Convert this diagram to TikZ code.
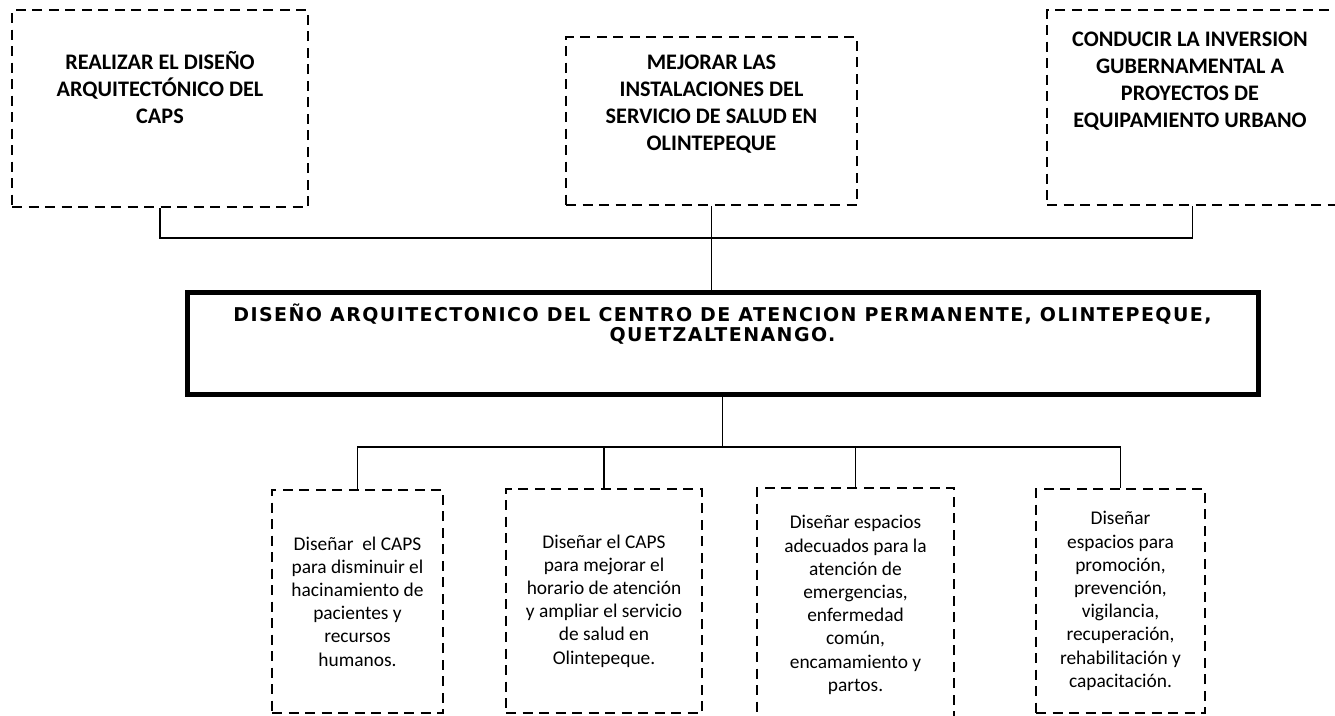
\documentclass[tikz,border=0pt]{standalone}
\usepackage{fontspec}
\setmainfont{Carlito}
\newfontfamily\titlefont[LetterSpace=7.5]{DejaVu Sans}
\usetikzlibrary{positioning}

\tikzset{
  dashbox/.style={draw, line width=2.8pt, dash pattern=on 10pt off 6.5pt, inner sep=0pt},
  headtxt/.style={font=\fontsize{22.2}{27}\selectfont\bfseries, align=center, inner sep=0pt},
  goaltxt/.style={font=\fontsize{19.4}{23.2}\selectfont, align=center},
  mainbox/.style={draw, line width=5pt, inner sep=0pt},
  maintxt/.style={font=\titlefont\bfseries\fontsize{19}{19.5}\selectfont, align=center, inner sep=0pt},
  link/.style={line width=1.8pt},
}

\begin{document}
\begin{tikzpicture}[x=1pt, y=-1pt]
\useasboundingbox (0,0) rectangle (1335,715);
% Objetivos generales
\node[dashbox, minimum width=296pt, minimum height=197pt] (obj1) at (160,108.5) {};
\node[dashbox, minimum width=291pt, minimum height=168pt] (obj2) at (711.5,121) {};
\node[dashbox, minimum width=291pt, minimum height=195pt] (obj3) at (1192.5,107.5) {};
\node[headtxt, anchor=north] (obj1txt) at (160,51) {REALIZAR EL DISEÑO\\ARQUITECTÓNICO DEL\\CAPS};
\node[headtxt, anchor=north] (obj2txt) at (711.5,55) {MEJORAR LAS\\INSTALACIONES DEL\\SERVICIO DE SALUD EN\\OLINTEPEQUE};
\node[headtxt, anchor=north] (obj3txt) at (1190,32) {CONDUCIR LA INVERSION\\GUBERNAMENTAL A\\PROYECTOS DE\\EQUIPAMIENTO URBANO};
% Proyecto
\node[mainbox, minimum width=1071pt, minimum height=102pt] (central) at (722.5,343) {};
\node[maintxt, anchor=north] (centraltxt) at (722.5,304) {DISEÑO ARQUITECTONICO DEL CENTRO DE ATENCION PERMANENTE, OLINTEPEQUE,\\QUETZALTENANGO.};
% Objetivos especificos
\node[dashbox, minimum width=171pt, minimum height=223pt, goaltxt] (objA) at (357.5,601.5)
  {Diseñar~ el CAPS\\para disminuir el\\hacinamiento de\\pacientes y\\recursos\\humanos.};
\node[dashbox, minimum width=196pt, minimum height=224pt, goaltxt] (objB) at (604,601)
  {Diseñar el CAPS\\para mejorar el\\horario de atención\\y ampliar el servicio\\de salud en\\Olintepeque.};
\node[dashbox, minimum width=197pt, minimum height=234pt, goaltxt] (objC) at (855.5,605)
  {Diseñar espacios\\adecuados para la\\atención de\\emergencias,\\enfermedad\\común,\\encamamiento y\\partos.};
\node[dashbox, minimum width=169pt, minimum height=224pt, goaltxt] (objD) at (1120.5,601)
  {Diseñar\\espacios para\\promoción,\\prevención,\\vigilancia,\\recuperación,\\rehabilitación y\\capacitación.};
% Conexiones
\coordinate (upjoin) at (711.5,238);
\coordinate (downjoin) at (722.5,447);
\draw[link] (obj1.south) |- (upjoin) -| (obj3.south);
\draw[link] (obj2.south) -- (obj2.south |- central.north);
\draw[link] (central.south) -- (downjoin);
\draw[link] (objA.north) |- (downjoin) -| (objD.north);
\draw[link] (objB.north) -- (objB.north |- downjoin);
\draw[link] (objC.north) -- (objC.north |- downjoin);
\end{tikzpicture}
\end{document}
